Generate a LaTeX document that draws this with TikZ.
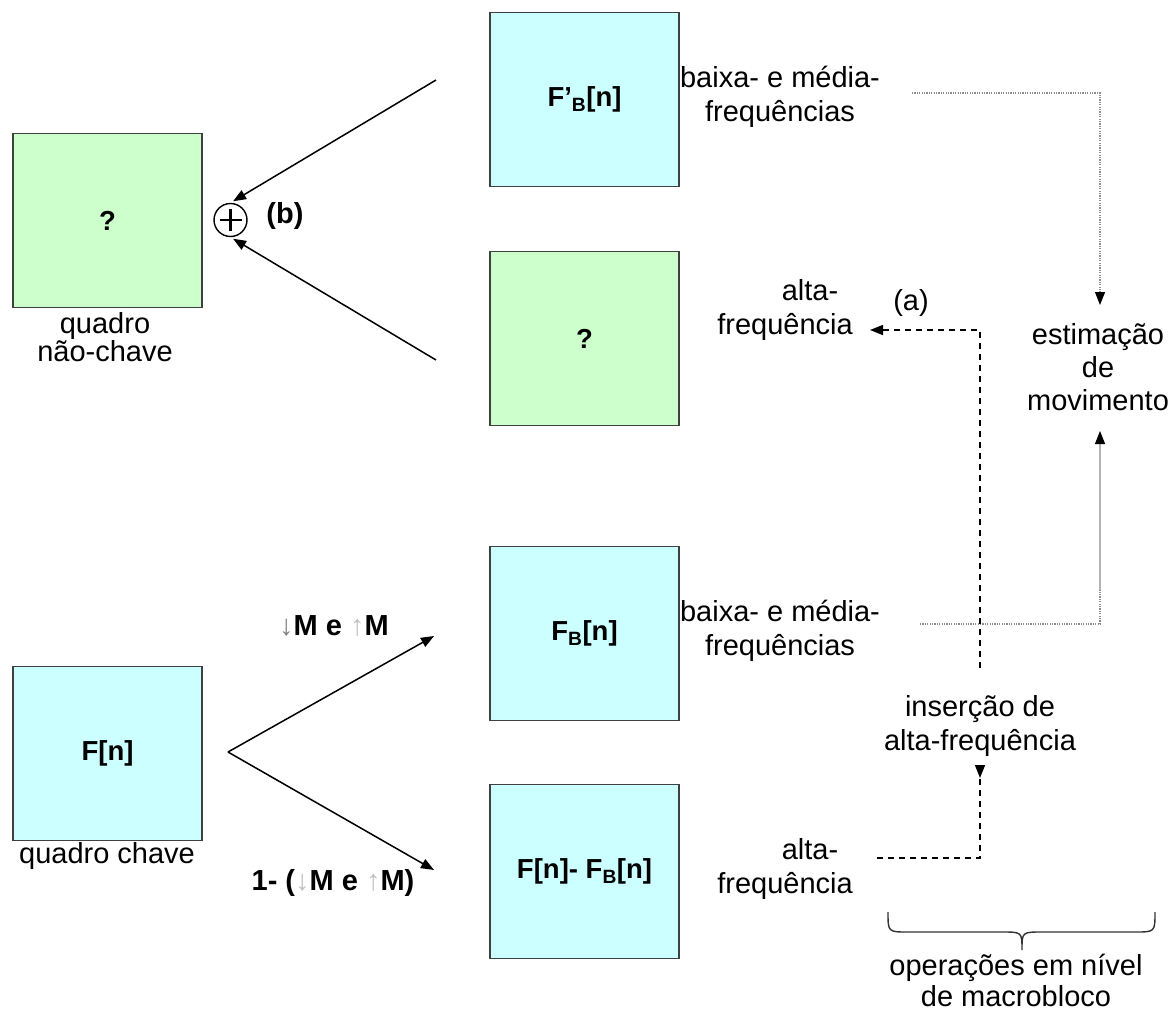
\documentclass[tikz,border=0pt]{standalone}
\usepackage{fontspec}
\setmainfont{Liberation Sans}
\usetikzlibrary{arrows.meta}
\definecolor{keycyan}{HTML}{CCFFFF}
\definecolor{guessgreen}{HTML}{CCFFCC}
\definecolor{framegray}{HTML}{404040}
\definecolor{dotgray}{HTML}{8C8C8C}
\begin{document}
\begin{tikzpicture}[x=1pt,y=-1pt,
  frame/.style={draw=framegray,line width=1.5pt,minimum width=189pt,minimum height=174pt,
    inner sep=0pt,font=\bfseries\fontsize{27.5}{33}\selectfont},
  lbl/.style={inner sep=0pt,align=center,font=\fontsize{29}{34}\selectfont},
  boldlbl/.style={lbl,font=\bfseries\fontsize{29}{34}\selectfont},
  tip/.style={-{Triangle[length=13pt,width=10pt]}},
  arr/.style={tip,line width=1.5pt,black},
  dashline/.style={line width=1.5pt,dash pattern=on 6pt off 5pt},
  dotline/.style={dotgray,line width=1.2pt,dash pattern=on 1.2pt off 1.2pt}]
\useasboundingbox (0,0) rectangle (1175,1012);

% frames
\node[frame,fill=guessgreen] (nk) at (107.5,220.5) {?};
\node[frame,fill=keycyan] (kf) at (107.5,753.5) {F[n]};
\node[frame,fill=keycyan] (fbp) at (584.5,99.5) {F’\textsubscript{B}[n]};
\node[frame,fill=guessgreen] (hq) at (584.5,338.5) {?};
\node[frame,fill=keycyan] (fb) at (584.5,633.5) {F\textsubscript{B}[n]};
\node[frame,fill=keycyan] (fd) at (584.5,871.5) {F[n]- F\textsubscript{B}[n]};

% captions
\node[lbl,font=\fontsize{29}{26}\selectfont] (cnk) at (105,337) {quadro\\não-chave};
\node[lbl] (ckf) at (107,856) {quadro chave};

% summation
\node[circle,draw,line width=1.4pt,minimum size=33pt,inner sep=0pt] (sum) at (230.5,220) {};
\draw[line width=2.4pt] ([xshift=-11pt]sum.center) -- ([xshift=11pt]sum.center)
  ([yshift=-11pt]sum.center) -- ([yshift=11pt]sum.center);
\node[boldlbl] (lb) at (285,216) {(b)};

\coordinate (ua) at (436,80);
\coordinate (la) at (436,360);
\draw[arr,shorten >=3pt] (ua) -- (sum.north);
\draw[arr,shorten >=3pt] (la) -- (sum.south);

% key frame split
\coordinate (split) at (228,752);
\coordinate (tu) at (434,636);
\coordinate (td) at (434,870);
\draw[arr] (split) -- (tu);
\draw[arr] (split) -- (td);
\node[boldlbl] (lm) at (334,626)
  {{\color{gray}↓}M e {\color{lightgray}↑}M};
\node[boldlbl] (lm2) at (333,883)
  {1- ({\color{lightgray}↓}M e {\color{lightgray}↑}M)};

% band labels
\node[lbl] (bm1) at (780,97) {baixa- e média-\\frequências};
\node[lbl] (a1) at (785,310) {\hspace*{50pt}alta-\\frequência};
\node[lbl] (bm2) at (780,631) {baixa- e média-\\frequências};
\node[lbl] (a2) at (785,869) {\hspace*{50pt}alta-\\frequência};

% motion estimation
\node[lbl,font=\fontsize{29}{33}\selectfont] (me) at (1098,367) {estimação\\de\\movimento};
\coordinate (d1) at (912,93);
\coordinate (mtop) at (1100,305);
\draw[dotline] (d1) -| ([yshift=8pt]mtop);
\draw[black,tip,line width=1pt] ([yshift=9pt]mtop) -- (mtop);
\coordinate (d2) at (920,624);
\coordinate (dk) at (1100,590);
\coordinate (mbot) at (1100,431);
\draw[dotline] (d2) -| (dk);
\draw[gray!60,line width=1.5pt] (dk) -- ([yshift=-8pt]mbot);
\draw[black,tip,line width=1pt] ([yshift=-9pt]mbot) -- (mbot);

% high-frequency insertion
\node[lbl] (ins) at (980,726) {inserção de\\alta-frequência};
\coordinate (h1) at (877,858);
\coordinate (insb) at (980,778);
\draw[dashline] (h1) -| ([yshift=8pt]insb);
\draw[arr] ([yshift=9pt]insb) -- (insb);
\coordinate (inst) at (980,668);
\coordinate (ha) at (870,330);
\draw[dashline] (inst) |- ([xshift=8pt]ha);
\draw[arr] ([xshift=9pt]ha) -- (ha);
\node[lbl] (la1) at (911,303) {(a)};

% macroblock brace
\coordinate (bl) at (888,912);
\coordinate (bt) at (1022,950);
\coordinate (br) at (1155,912);
\draw[black!80,line width=1.4pt] (bl) .. controls (888,932) .. (908,932) -- (1002,932)
  .. controls (1022,932) .. (bt) .. controls (1022,932) .. (1042,932) -- (1135,932)
  .. controls (1155,932) .. (br);
\node[lbl,font=\fontsize{29}{31}\selectfont] (ops) at (1016,980) {operações em nível\\de macrobloco};
\end{tikzpicture}
\end{document}
